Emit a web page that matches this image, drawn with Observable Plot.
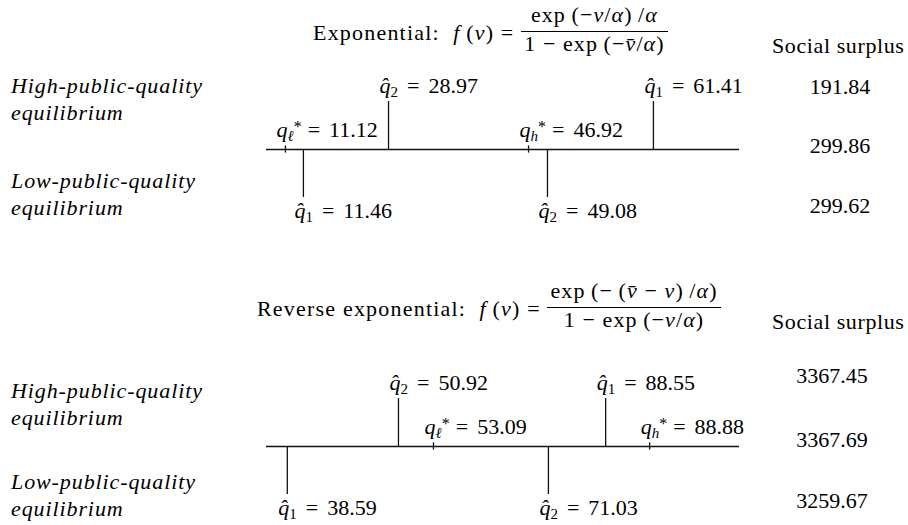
<!DOCTYPE html>
<html><head><meta charset="utf-8">
<script src="https://cdn.jsdelivr.net/npm/d3@7"></script>
<script src="https://cdn.jsdelivr.net/npm/@observablehq/plot@0.6"></script>
<style>
html,body{margin:0;padding:0;background:#fff;overflow:hidden;}
#fig{position:relative;width:908px;height:525px;overflow:hidden;font-family:"Liberation Serif",serif;color:#000;font-size:22px;}
.abs{position:absolute;white-space:nowrap;line-height:22px;}
.title{position:absolute;display:flex;align-items:center;white-space:nowrap;}
.title .lead{line-height:24px;padding-top:6px;letter-spacing:1.2px;}
.frac{display:inline-flex;flex-direction:column;text-align:center;letter-spacing:1.1px;}
.frac .num{line-height:24px;padding:0 3px 4px;border-bottom:1px solid #000;}
.frac .den{line-height:24px;padding:0 3px;}
.side{position:absolute;font-style:italic;line-height:26.5px;letter-spacing:0.9px;white-space:pre;}
.panel{position:absolute;left:0;}
</style></head>
<body><div id="fig"></div>
<script>
// ---------- Exponential panel ----------
const expHatRow   = ["high", "high", "low", "low"];
const expHatIndex = ["2", "1", "1", "2"];
const expHatValue = [28.97, 61.41, 11.46, 49.08];
// schematic place of each marker on the (not-to-scale) number line, 0–100
const expHatPlace = [25.8, 81.8, 7.8, 59.4];
const expStarIndex = ["ℓ", "h"];
const expStarValue = [11.12, 46.92];
const expStarPlace = [4.0, 55.4];
const expSurplus = [191.84, 299.86, 299.62];

// ---------- Reverse exponential panel ----------
const revHatRow   = ["high", "high", "low", "low"];
const revHatIndex = ["2", "1", "1", "2"];
const revHatValue = [50.92, 88.55, 38.59, 71.03];
const revHatPlace = [27.9, 71.7, 4.4, 59.6];
const revStarIndex = ["ℓ", "h"];
const revStarValue = [53.09, 88.88];
const revStarPlace = [35.3, 81.0];
const revSurplus = [3367.45, 3367.69, 3259.67];

const rowLabels = ["High-public-quality\nequilibrium", "Low-public-quality\nequilibrium"];
const surplusHeading = "Social surplus";

const fig = document.getElementById("fig");
const FS = 22, ASC = 0.891, DESC = 0.216;
const topFor = (baseline, lh) => baseline - ((lh - (ASC + DESC) * FS) / 2 + ASC * FS);

function addDiv(cls, html, style) {
  const d = document.createElement("div");
  d.className = cls;
  d.innerHTML = html;
  Object.assign(d.style, style);
  fig.appendChild(d);
  return d;
}

function title(left, barY, lead, num, den) {
  addDiv("title",
    `<span class="lead">${lead}</span><span class="frac"><span class="num">${num}</span><span class="den">${den}</span></span>`,
    {left: left + "px", top: (barY - 28) + "px"});
}

function typeset(svg) {
  d3.select(svg).selectAll("text").each(function () {
    const m = this.textContent.match(/^q(\u0302?)(\*?)(\S+) = (.+)$/);
    if (!m) return;
    const [, hat, star, idx, val] = m;
    const t = d3.select(this);
    t.text(null);
    t.append("tspan").attr("font-style", "italic").text("q" + hat);
    if (star) {
      t.append("tspan").attr("font-size", 15).attr("font-style", "italic").attr("dy", 4).text(idx);
      t.append("tspan").attr("font-size", 16).attr("dy", -9).text("*");
      t.append("tspan").attr("dx", 6).attr("dy", 5).text("=");
    } else {
      t.append("tspan").attr("font-size", 15).attr("dy", 4).text(idx);
      t.append("tspan").attr("dx", 9).attr("dy", -4).text("=");
    }
    t.append("tspan").attr("dx", 9).text(val);
  });
}

function panel(top, hatRow, hatIndex, hatValue, hatPlace, starIndex, starValue, starPlace) {
  const hats = hatValue.map((v, i) => ({row: hatRow[i], idx: hatIndex[i], value: v, place: hatPlace[i]}));
  const stars = starValue.map((v, i) => ({idx: starIndex[i], value: v, place: starPlace[i]}));
  const side = d => d.row === "high" ? 1 : -1;
  const font = {fontFamily: "Liberation Serif", fontSize: 22, fill: "#000", textAnchor: "start", lineAnchor: "bottom"};
  const ink = {stroke: "#111", strokeWidth: 1.3};
  const svg = Plot.plot({
    width: 908, height: 170,
    marginLeft: 266, marginRight: 169, marginTop: 42, marginBottom: 32,
    x: {domain: [0, 100], axis: null},
    y: {domain: [-1, 1], axis: null},
    style: {background: "transparent", overflow: "visible"},
    marks: [
      Plot.ruleY([0], ink),
      Plot.ruleX(hats, {x: "place", y1: 0, y2: side, ...ink}),
      Plot.ruleX(stars, {x: "place", y1: -0.075, y2: 0.075, ...ink}),
      Plot.text(hats.filter(d => d.row === "high"), {x: "place", y: 1, text: d => `q\u0302${d.idx} = ${d.value.toFixed(2)}`, dx: -9, dy: -9, ...font}),
      Plot.text(hats.filter(d => d.row === "low"), {x: "place", y: -1, text: d => `q\u0302${d.idx} = ${d.value.toFixed(2)}`, dx: -9, dy: 20, ...font}),
      Plot.text(stars, {x: "place", y: 0, text: d => `q*${d.idx} = ${d.value.toFixed(2)}`, dx: -9, dy: -13, ...font})
    ]
  });
  typeset(svg);
  svg.classList.add("panel");
  svg.style.top = top + "px";
  fig.appendChild(svg);
}

function surplus(headBase, center, values, bases) {
  addDiv("abs", surplusHeading, {left: "772px", top: topFor(headBase, 22) + "px", letterSpacing: "0.6px"});
  values.forEach((v, i) => addDiv("abs", v.toFixed(2), {left: (center - 60) + "px", width: "120px", textAlign: "center", top: topFor(bases[i], 22) + "px"}));
}

function sides(bases) {
  rowLabels.forEach((s, i) => addDiv("side", s, {left: "11px", top: topFor(bases[i], 26.5) + "px"}));
}

// Exponential
title(313, 31, "Exponential:&nbsp; <i>f</i>&#8201;(<i>v</i>) =&nbsp;",
  "exp&#8201;(−<i>v</i>/<i>α</i>)&#8201;/<i>α</i>",
  "1 − exp&#8201;(−<i>v\u0304</i>/<i>α</i>)");
panel(59, expHatRow, expHatIndex, expHatValue, expHatPlace, expStarIndex, expStarValue, expStarPlace);
surplus(53, 840, expSurplus, [94, 153, 213]);
sides([94, 189]);

// Reverse exponential
title(257, 307, "Reverse exponential:&nbsp; <i>f</i>&#8201;(<i>v</i>) =&nbsp;",
  "exp&#8201;(−&#8201;(<i>v\u0304</i> − <i>v</i>)&#8201;/<i>α</i>)",
  "1 − exp&#8201;(−<i>v</i>/<i>α</i>)");
panel(356, revHatRow, revHatIndex, revHatValue, revHatPlace, revStarIndex, revStarValue, revStarPlace);
surplus(329, 832, revSurplus, [383, 447, 508]);
sides([399, 490]);
</script>
</body></html>
